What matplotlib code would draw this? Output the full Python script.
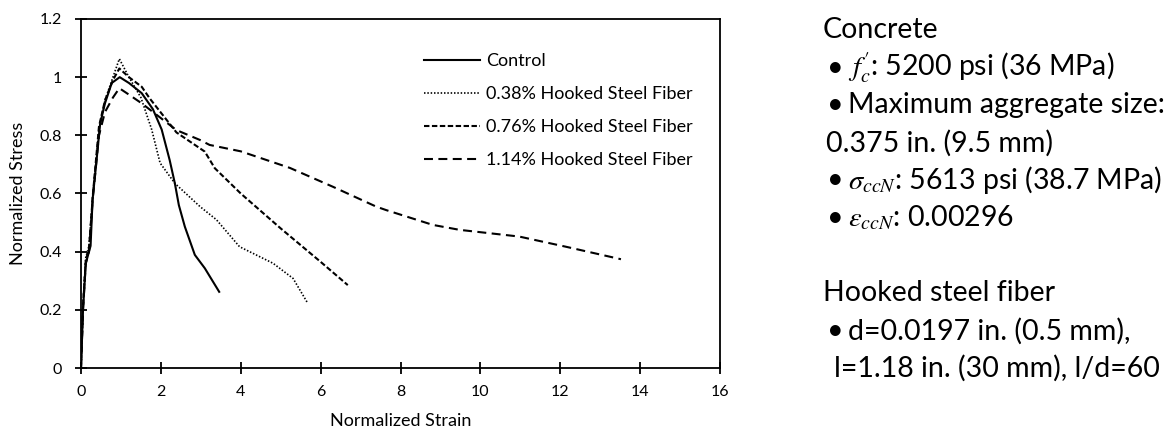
import matplotlib
matplotlib.use("Agg")
import matplotlib.pyplot as plt

plt.rcParams['font.family'] = ['Lato', 'DejaVu Sans']
plt.rcParams['mathtext.fontset'] = 'stix'

# Normalized stress-strain curves
control_x = [0, 0.05, 0.12, 0.2, 0.24, 0.29, 0.35, 0.48, 0.6, 0.77, 0.97, 1.2, 1.52, 1.8, 2.02, 2.22, 2.35, 2.45, 2.6, 2.85, 3.1, 3.46]
control_y = [0, 0.2, 0.36, 0.4, 0.42, 0.58, 0.66, 0.84, 0.91, 0.98, 1.0, 0.98, 0.945, 0.89, 0.82, 0.715, 0.635, 0.56, 0.486, 0.389, 0.343, 0.262]

f038_x = [0, 0.05, 0.12, 0.2, 0.3, 0.45, 0.6, 0.8, 0.96, 1.2, 1.5, 1.77, 1.98, 2.35, 2.98, 3.39, 3.97, 4.81, 5.31, 5.68]
f038_y = [0, 0.22, 0.38, 0.42, 0.6, 0.82, 0.92, 1.0, 1.063, 1.0, 0.93, 0.82, 0.705, 0.635, 0.555, 0.51, 0.417, 0.36, 0.308, 0.222]

f076_x = [0, 0.05, 0.12, 0.2, 0.3, 0.45, 0.6, 0.8, 0.96, 1.2, 1.52, 1.72, 2.39, 3.1, 3.35, 4.0, 5.0, 6.0, 6.68]
f076_y = [0, 0.21, 0.37, 0.41, 0.6, 0.83, 0.92, 0.99, 1.03, 1.0, 0.967, 0.927, 0.81, 0.744, 0.687, 0.6, 0.48, 0.365, 0.285]

f114_x = [0, 0.05, 0.12, 0.2, 0.3, 0.45, 0.6, 0.8, 0.96, 1.2, 1.52, 2.39, 2.98, 3.22, 4.0, 5.23, 6.31, 7.39, 7.64, 8.81, 9.48, 10.97, 12.14, 13.52]
f114_y = [0, 0.2, 0.36, 0.4, 0.59, 0.8, 0.88, 0.93, 0.962, 0.94, 0.91, 0.818, 0.784, 0.767, 0.745, 0.688, 0.623, 0.555, 0.543, 0.492, 0.475, 0.452, 0.417, 0.374]

series_labels = ['Control', '0.38% Hooked Steel Fiber', '0.76% Hooked Steel Fiber', '1.14% Hooked Steel Fiber']

x_ticks = [0, 2, 4, 6, 8, 10, 12, 14, 16]
y_ticks = [0, 0.2, 0.4, 0.6, 0.8, 1, 1.2]
y_tick_labels = ['0', '0.2', '0.4', '0.6', '0.8', '1', '1.2']

W, H = 1166, 434
fig = plt.figure(figsize=(W / 100, H / 100), dpi=100)
ax = fig.add_axes([81 / W, 66 / H, 639 / W, 349 / H])

ax.plot(control_x, control_y, color='black', lw=1.5, linestyle='-', label=series_labels[0])
ax.plot(f038_x, f038_y, color='black', lw=1.2, linestyle=(0, (0.9, 1.1)), label=series_labels[1])
ax.plot(f076_x, f076_y, color='black', lw=1.5, linestyle=(0, (2.6, 1.2)), label=series_labels[2])
ax.plot(f114_x, f114_y, color='black', lw=1.5, linestyle=(0, (4.3, 2.6)), label=series_labels[3])

ax.set_xlim(0, 16)
ax.set_ylim(0, 1.2)
ax.set_xticks(x_ticks)
ax.set_xticklabels([str(v) for v in x_ticks])
ax.set_yticks(y_ticks)
ax.set_yticklabels(y_tick_labels)
ax.tick_params(direction='inout', length=9, width=1.3, labelsize=11.5, colors='black')
ax.tick_params(axis='y', pad=9)
ax.tick_params(axis='x', pad=8)
for s in ax.spines.values():
    s.set_linewidth(1.3)

ax.set_xlabel('Normalized Strain', fontsize=13, labelpad=10)
ax.set_ylabel('Normalized Stress', fontsize=13, labelpad=10)

ax.legend(loc='upper left', bbox_to_anchor=(424 / W, 1 - 53 / H), bbox_transform=fig.transFigure,
          frameon=False, fontsize=13, handlelength=3.1, handletextpad=0.35,
          labelspacing=0.95, borderpad=0, borderaxespad=0)

# Material properties
fs = 20.5
head_x = 823
body_x = 848
bullet_x = 835
lines = [
    (head_x, 30, 'Concrete', False),
    (body_x, 68, r"$f_c'$: 5200 psi (36 MPa)", True),
    (body_x, 105, 'Maximum aggregate size:', True),
    (826, 143, '0.375 in. (9.5 mm)', False),
    (body_x, 180, r'$\sigma_{ccN}$: 5613 psi (38.7 MPa)', True),
    (body_x, 218, r'$\varepsilon_{ccN}$: 0.00296', True),
    (head_x, 293, 'Hooked steel fiber', False),
    (body_x, 331, 'd=0.0197 in. (0.5 mm),', True),
    (834, 368, 'l=1.18 in. (30 mm), l/d=60', False),
]
for x, y, txt, bullet in lines:
    fig.text(x / W, 1 - y / H, txt, fontsize=fs, va='center', ha='left')
    if bullet:
        fig.text(bullet_x / W, 1 - y / H, '\u2022', fontsize=fs, va='center', ha='center')

fig.savefig('out.png', dpi=100)
